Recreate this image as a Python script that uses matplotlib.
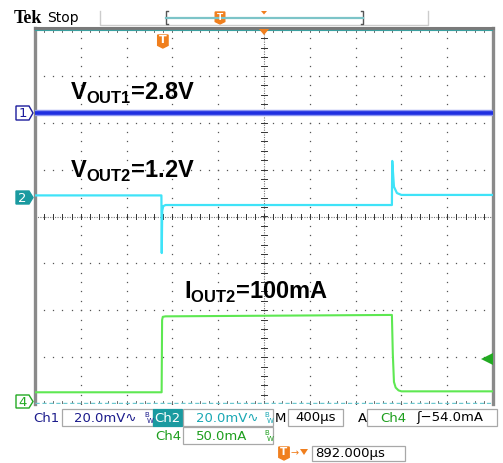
"""Scope capture: LDO load-transient, VOUT1 / VOUT2 / IOUT2."""
import numpy as np
import matplotlib
matplotlib.use("Agg")
import matplotlib.pyplot as plt
from matplotlib.patches import Polygon, Rectangle
from matplotlib.transforms import Affine2D

W, H = 503, 463

# horizontal: 400 us/div, 10 div
t_per_div = 400
# ch1: 20 mV/div (AC), ch2: 20 mV/div (AC), ch4: 50 mA/div
ch1_scale, ch2_scale, ch4_scale = 20.0, 20.0, 50.0
ch1_pos, ch2_pos, ch4_pos = 2.2, 0.42, -3.93  # ground markers, div

ch1_t = [-2000, 2000]
ch1_mv = [0.0, 0.0]

ch2_t = [-2000, -896, -893, -889, -880, -860, 1117, 1120, 1135, 1161, 1200, 2000]
ch2_mv = [0.6, 0.6, -24.0, -6.0, -4.0, -3.5, -3.5, 15.3, 4.3, 1.6, 0.8, 0.8]

ch4_t = [-2000, -894, -890, -884, -860, 1117, 1125, 1135, 1150, 1175, 1200, 2000]
ch4_ma = [9.0, 9.0, 86.0, 89.5, 90.0, 91.5, 50.0, 20.0, 14.0, 11.0, 10.0, 10.0]

trig_t = -892
trig_level_ma = 44.0

fig = plt.figure(figsize=(W / 100, H / 100), dpi=100)
pix = Affine2D().scale(1 / W, -1 / H).translate(0, 1) + fig.transFigure

ax = fig.add_axes([35 / W, 1 - 404 / H, 458 / W, 375 / H])
ax.set_xlim(-5 * t_per_div, 5 * t_per_div)
ax.set_ylim(-4, 4)
ax.axis("off")

# graticule
dot = dict(ls="none", marker="s", ms=0.9, color="#555555", mew=0)
ys = np.arange(-4, 4.001, 0.2)
xs = np.arange(-2000, 2000.1, 80)
for k in range(-4, 5):
    if k:
        ax.plot(np.full_like(ys, k * t_per_div), ys, **dot)
for k in range(-3, 4):
    if k:
        ax.plot(xs, np.full_like(xs, k), **dot)
ax.plot([0, 0], [-4, 4], color="#777777", lw=0.8, ls=(0, (1, 1.2)))
ax.plot([-2000, 2000], [0, 0], color="#777777", lw=0.8, ls=(0, (1, 1.2)))
for y in ys:
    ax.plot([-22, 22], [y, y], color="#333333", lw=0.7)
for x in xs:
    ax.plot([x, x], [-0.055, 0.055], color="#333333", lw=0.7)
    ax.plot([x, x], [-4, -3.93], color="#555555", lw=0.6)
    ax.plot([x, x], [4, 3.94], color="#555555", lw=0.6)

# frame
ax.plot([-2000, -2000], [-4, 4.03], color="#8a8a8a", lw=2.4, clip_on=False)
ax.plot([2000, 2000], [-4, 4.03], color="#8a8a8a", lw=2.4, clip_on=False)
ax.plot([-2000, 2000], [4.03, 4.03], color="#7a7a7a", lw=2.2, clip_on=False)
ax.plot([-2000, 2000], [3.985, 3.985], color="#3aa0a0", lw=0.8)
ax.plot([-2000, 2000], [-3.98, -3.98], color="#6cc8d0", lw=1.0, ls=(0, (3, 2)))

# traces
t1 = np.array(ch1_t)
ax.plot(t1, ch1_pos + np.array(ch1_mv) / ch1_scale, color="#8d96f0", lw=4.6)
ax.plot(t1, ch1_pos + np.array(ch1_mv) / ch1_scale, color="#1f2fe0", lw=2.6)
ax.plot(ch2_t, ch2_pos + np.array(ch2_mv) / ch2_scale, color="#3fe3f8", lw=1.6)
ax.plot(ch4_t, ch4_pos + np.array(ch4_ma) / ch4_scale, color="#5ee852", lw=1.5)

# trigger level arrow (right edge)
ty = ch4_pos + trig_level_ma / ch4_scale
ax.plot([1950], [ty], marker="<", ms=8, color="#22aa22", mew=0, clip_on=False)

# annotations
lab = dict(fontsize=17, fontweight="bold", family="Liberation Sans", color="black",
           va="baseline", ha="left", transform=pix)
plt.rcParams["mathtext.fontset"] = "custom"
plt.rcParams["mathtext.bf"] = "Liberation Sans:bold"
plt.rcParams["mathtext.rm"] = "Liberation Sans:bold"
fig.text(70, 100, r"V$_{\mathbf{OUT1}}$=2.8V", **lab)
fig.text(70, 178, r"V$_{\mathbf{OUT2}}$=1.2V", **lab)
fig.text(184, 299, r"I$_{\mathbf{OUT2}}$=100mA", **lab)


def marker_box(x0, y0, x1, y1, face, edge, txt, tcol):
    tip = x1 + 4
    ym = (y0 + y1) / 2
    fig.patches.append(Polygon([(x0, y0), (x1, y0), (tip, ym), (x1, y1), (x0, y1)],
                               closed=True, facecolor=face, edgecolor=edge, lw=1.0,
                               transform=pix))
    fig.text((x0 + x1) / 2, ym + 0.5, txt, color=tcol, fontsize=9.5, ha="center",
             va="center", transform=pix)


marker_box(16, 106, 29, 120, "white", "#1c1c9c", "1", "#1c1c9c")
marker_box(16, 191, 29, 204, "#1a9aa0", "#1a9aa0", "2", "white")
marker_box(16, 395, 29, 408, "white", "#22aa22", "4", "#22aa22")


def trig_tag(xc, y0, h, fs):
    w = h * 0.8
    fig.patches.append(Polygon([(xc - w / 2, y0), (xc + w / 2, y0), (xc + w / 2, y0 + h * 0.8),
                                (xc, y0 + h), (xc - w / 2, y0 + h * 0.8)], closed=True,
                               facecolor="#f07f1e", edgecolor="#f07f1e", transform=pix))
    fig.text(xc, y0 + h * 0.42, "T", color="white", fontsize=fs, fontweight="bold",
             ha="center", va="center", transform=pix)


trig_x = 265 + trig_t / t_per_div * 45.8
trig_tag(trig_x, 35, 13, 8)
fig.patches.append(Polygon([(259, 29), (269, 29), (264, 35)], closed=True,
                           facecolor="#f07f1e", edgecolor="none", transform=pix))

# header
fig.text(14, 23, "Tek", fontsize=13, fontweight="bold", family="Liberation Serif",
         transform=pix, va="baseline")
fig.text(47, 22, "Stop", fontsize=10, transform=pix, va="baseline")
hdr = dict(transform=pix, clip_on=False)
fig.lines.append(plt.Line2D([100, 100, 428, 428], [11, 25, 25, 11], color="#cccccc", lw=1.0, **hdr))
fig.lines.append(plt.Line2D([168, 166, 166, 168], [11, 11, 24, 24], color="#555555", lw=1.0, **hdr))
fig.lines.append(plt.Line2D([361, 363, 363, 361], [11, 11, 24, 24], color="#555555", lw=1.0, **hdr))
fig.lines.append(plt.Line2D([166, 363], [18, 18], color="#7cc4c8", lw=1.6, **hdr))
trig_tag(220, 12, 12, 6.5)
fig.patches.append(Polygon([(261, 11), (267, 11), (264, 14.5)], closed=True,
                           facecolor="#f07f1e", edgecolor="none", transform=pix))

# readout boxes
def box(x0, y0, x1, y1, face="white", edge="#a8a8a8"):
    fig.patches.append(Rectangle((x0, y1), x1 - x0, y0 - y1, facecolor=face,
                                 edgecolor=edge, lw=0.9, transform=pix))


ro = dict(fontsize=9.5, transform=pix, va="center", family="DejaVu Sans")
navy, teal, green = "#1c1c8c", "#1aa8b4", "#1d9e1d"
box(62, 409, 153, 426)
box(153, 409, 182, 426, face="#1a9aa0", edge="#1a9aa0")
box(183, 409, 273, 426)
box(288, 409, 343, 426)
box(367, 409, 497, 426)
box(183, 427, 273, 444)
box(312, 446, 405, 461)

fig.text(33, 418, "Ch1", color=navy, **ro)
fig.text(74, 418, "20.0mV\u223f", color=navy, **ro)
fig.text(144, 415, "B", color=navy, fontsize=5, transform=pix, va="center")
fig.text(147, 421, "W", color=navy, fontsize=5, transform=pix, va="center")
fig.text(154, 418, "Ch2", color="white", **ro)
fig.text(196, 418, "20.0mV\u223f", color=teal, **ro)
fig.text(264, 415, "B", color=teal, fontsize=5, transform=pix, va="center")
fig.text(267, 421, "W", color=teal, fontsize=5, transform=pix, va="center")
fig.text(275, 418, "M", color="black", **ro)
fig.text(295, 418, "400\u00b5s", color="black", **ro)
fig.text(358, 418, "A", color="black", **ro)
fig.text(380, 418, "Ch4", color=green, **ro)
fig.text(416, 418, "\u0283\u221254.0mA", color="black", **ro)
fig.text(155, 436, "Ch4", color=green, **ro)
fig.text(196, 436, "50.0mA", color=green, **ro)
fig.text(264, 433, "B", color=green, fontsize=5, transform=pix, va="center")
fig.text(267, 439, "W", color=green, fontsize=5, transform=pix, va="center")
trig_tag(284, 447, 13, 7.5)
fig.text(291, 453, "\u2192", color="#f07f1e", fontsize=7, transform=pix, va="center")
fig.patches.append(Polygon([(300, 449), (308, 449), (304, 455)], closed=True,
                           facecolor="#f07f1e", edgecolor="none", transform=pix))
fig.text(315, 454, "892.000\u00b5s", color="black", **ro)

fig.savefig("out.png", dpi=100)
